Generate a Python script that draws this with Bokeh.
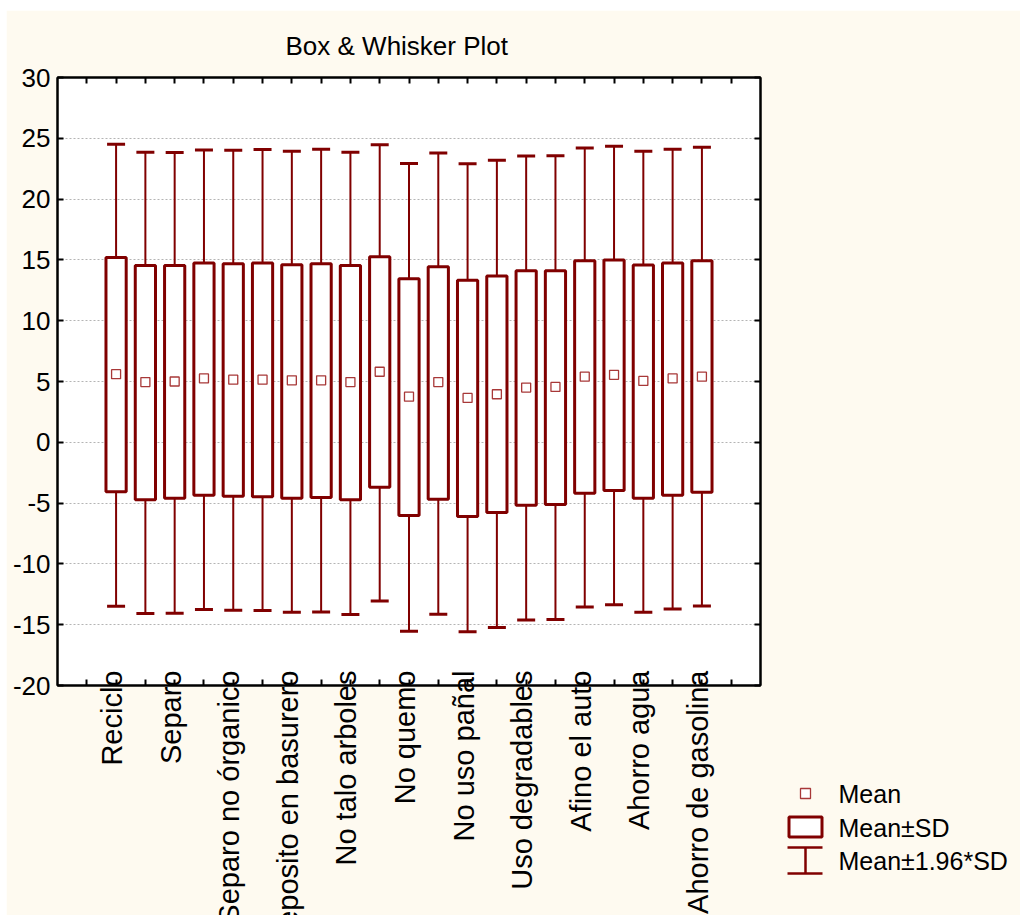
import math
from bokeh.plotting import figure
from bokeh.models import ColumnDataSource, FixedTicker, LinearAxis, Range1d, Spacer
from bokeh.layouts import row, column
from bokeh.embed import file_html
from bokeh.resources import INLINE
from bokeh.core.properties import value

# ---------------- data ----------------
title_text = "Box & Whisker Plot"
shown_labels = ["Reciclo", "Separo", "Separo no órganico", "Deposito en basurero",
                "No talo arboles", "No quemo", "No uso pañal", "Uso degradables",
                "Afino el auto", "Ahorro agua", "Ahorro de gasolina"]
positions = list(range(1, 22))
means = [5.6, 4.95, 5.0, 5.25, 5.15, 5.15, 5.1, 5.1, 4.95, 5.8, 3.75,
         4.95, 3.65, 3.95, 4.5, 4.55, 5.4, 5.55, 5.05, 5.25, 5.4]
box_high = [15.19, 14.53, 14.53, 14.75, 14.69, 14.75, 14.61, 14.69, 14.53, 15.25, 13.44,
            14.44, 13.33, 13.67, 14.11, 14.11, 14.92, 15.0, 14.58, 14.75, 14.92]
box_low = [-4.06, -4.72, -4.61, -4.36, -4.44, -4.47, -4.61, -4.53, -4.72, -3.69, -6.03,
           -4.69, -6.11, -5.78, -5.17, -5.11, -4.19, -3.97, -4.61, -4.36, -4.11]
whisker_high = [24.52, 23.86, 23.83, 24.04, 24.02, 24.07, 23.94, 24.10, 23.86, 24.47, 22.93,
                23.80, 22.90, 23.19, 23.54, 23.56, 24.20, 24.34, 23.94, 24.10, 24.26]
whisker_low = [-13.49, -14.08, -14.05, -13.76, -13.81, -13.84, -13.97, -13.95, -14.16, -13.05, -15.54,
               -14.14, -15.59, -15.24, -14.62, -14.57, -13.54, -13.35, -13.97, -13.70, -13.46]
y_ticks = [-20, -15, -10, -5, 0, 5, 10, 15, 20, 25, 30]
x_ticks = list(range(0, 23))
legend_labels = ["Mean", "Mean±SD", "Mean±1.96*SD"]

# ---------------- styles ----------------
CREAM = "#FEFAF0"
RED = "#800000"
MEAN_RED = "#A83838"
FONT = "Liberation Sans"
STRIP_H = 245   # height of the category-label strip that overlaps the plot's bottom border

src = ColumnDataSource(dict(x=positions, mean=means, bl=box_low, bh=box_high,
                            wl=whisker_low, wh=whisker_high))

# ---------------- main plot ----------------
p = figure(width=1014, height=905, x_range=Range1d(-1, 23), y_range=Range1d(-20, 30),
           output_backend="svg", toolbar_location=None,
           min_border_left=51, min_border_right=260, min_border_top=67, min_border_bottom=230,
           background_fill_color="white", border_fill_color=CREAM,
           outline_line_color="black", outline_line_width=2)

p.title.text = title_text
p.title.text_font = FONT
p.title.text_font_size = "26px"
p.title.text_font_style = "normal"
p.title.align = "left"
p.title.offset = 228
p.title.standoff = 34
p.title.text_color = "black"


def style_axis(ax, labels=True):
    ax.axis_line_width = 2
    ax.axis_line_color = "black"
    ax.major_tick_in = 6
    ax.major_tick_out = 0
    ax.major_tick_line_width = 2
    ax.major_tick_line_color = "black"
    ax.minor_tick_line_color = None
    if labels:
        ax.major_label_text_font = FONT
        ax.major_label_text_font_size = "26px"
        ax.major_label_text_color = "black"
        ax.major_label_standoff = 7
    else:
        ax.major_label_text_color = None
        ax.major_label_text_font_size = "1px"
        ax.major_label_standoff = 0


p.xaxis.ticker = FixedTicker(ticks=x_ticks)
style_axis(p.xaxis[0], labels=False)
p.yaxis.ticker = FixedTicker(ticks=y_ticks)
p.yaxis.major_label_overrides = {t: str(t) for t in y_ticks}
style_axis(p.yaxis[0], labels=True)

top_ax = LinearAxis(ticker=FixedTicker(ticks=x_ticks))
style_axis(top_ax, labels=False)
p.add_layout(top_ax, "above")
right_ax = LinearAxis(ticker=FixedTicker(ticks=y_ticks))
style_axis(right_ax, labels=False)
p.add_layout(right_ax, "right")

p.xgrid.visible = False
p.ygrid.grid_line_color = "#b4b4b4"
p.ygrid.grid_line_dash = "2 2"
p.ygrid.grid_line_width = 1

# whiskers (Mean±1.96*SD)
p.segment(x0="x", y0="wl", x1="x", y1="wh", source=src, line_color=RED, line_width=2)
p.scatter(x="x", y="wl", marker="dash", size=18, line_color=RED, line_width=3, source=src)
p.scatter(x="x", y="wh", marker="dash", size=18, line_color=RED, line_width=3, source=src)
# boxes (Mean±SD)
p.vbar(x="x", width=0.69, bottom="bl", top="bh", source=src,
       fill_color="white", line_color=RED, line_width=3)
# means
p.scatter(x="x", y="mean", marker="square", size=9, source=src,
          fill_color="white", line_color=MEAN_RED, line_width=1.3)

# ---------------- category labels strip (transparent, shares the x scale) ----------------
lbl = figure(width=756, height=STRIP_H, x_range=p.x_range, y_range=Range1d(0, 1),
             output_backend="svg", toolbar_location=None, title=None,
             min_border_left=51, min_border_right=2, min_border_top=0, min_border_bottom=0,
             x_axis_location=None, y_axis_location=None,
             background_fill_color=None, border_fill_color=None, outline_line_color=None)
lbl.grid.visible = False
lbl.text(x=positions[::2], y=[1] * len(shown_labels), text=shown_labels,
         angle=math.pi / 2, text_align="right", text_baseline="middle", x_offset=-4,
         text_font=value(FONT), text_font_size="29px", text_color="black")

# ---------------- legend panel ----------------
lg = figure(width=258, height=STRIP_H, x_range=Range1d(0, 258), y_range=Range1d(STRIP_H, 0),
            output_backend="svg", toolbar_location=None, title=None, min_border=0,
            x_axis_location=None, y_axis_location=None,
            background_fill_color=None, border_fill_color=None, outline_line_color=None)
lg.grid.visible = False
lg.scatter(x=[43], y=[123], marker="square", size=10, fill_color="white",
           line_color=MEAN_RED, line_width=1.3)
lg.quad(left=[26.5], right=[59.5], top=[146.5], bottom=[166.5], fill_color="white",
        line_color=RED, line_width=3)
lg.segment(x0=[25, 25, 43], y0=[177, 203, 177], x1=[60, 60, 43], y1=[177, 203, 203],
           line_color=RED, line_width=2.5)
lg.text(x=[76, 76, 76], y=[123, 157, 190], text=legend_labels, text_font=value(FONT),
        text_font_size="25px", text_baseline="middle", text_color="black")

layout = column(
    Spacer(width=1020, height=10),
    row(Spacer(width=6, height=905), p),
    row(Spacer(width=6, height=STRIP_H), lbl, lg,
        styles={"margin-top": "-%dpx" % STRIP_H}),
)
open("out.html", "w").write(file_html(layout, INLINE))
